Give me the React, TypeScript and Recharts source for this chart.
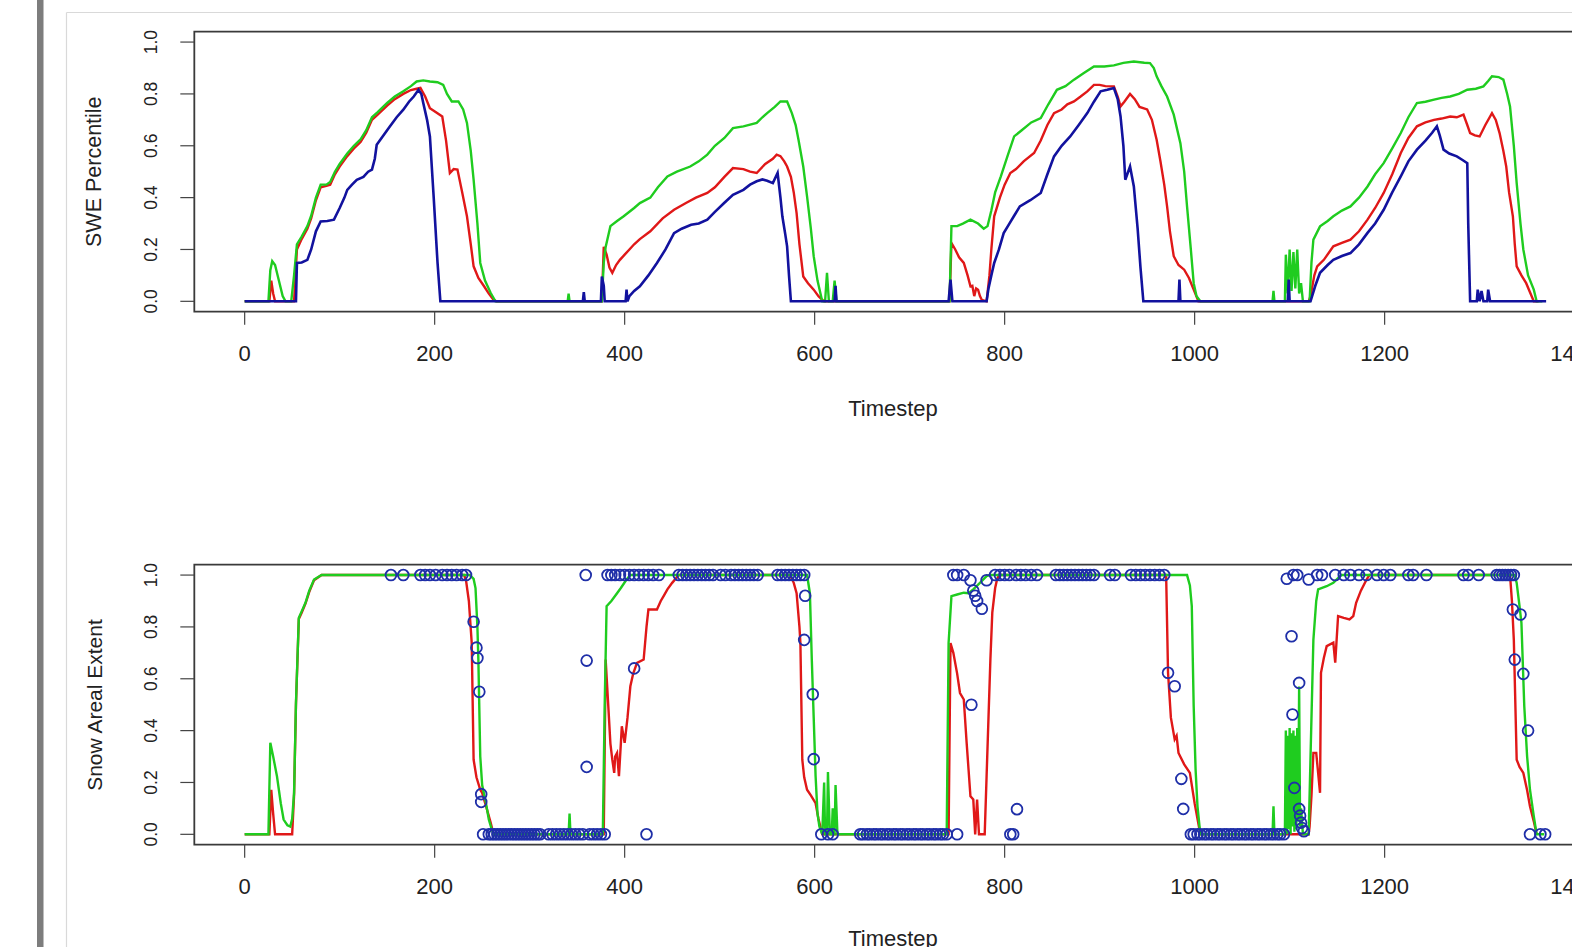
import React from 'react';
import { LineChart, ComposedChart, Line, Scatter, XAxis, YAxis, ReferenceArea } from 'recharts';

// ---------- tick labels ----------
const xTicks = [0, 200, 400, 600, 800, 1000, 1200, 1400];
const yTicks = [0, 0.2, 0.4, 0.6, 0.8, 1.0];
const xTitle = 'Timestep';
const yTitleTop = 'SWE Percentile';
const yTitleBottom = 'Snow Areal Extent';

// ---------- panel 1 : SWE percentile [timestep, value] ----------
const sweGreen: [number, number][] = [
  [0,0],[25,0],[27,0.12],[29,0.155],[32,0.14],[36,0.08],[40,0.02],[43,0],[49,0],[52,0.1],[55,0.22],[60,0.25],[66,0.29],[70,0.33],[75,0.4],[80,0.45],[86,0.45],[90,0.46],[95,0.5],[100,0.53],[108,0.57],[115,0.6],[122,0.625],[128,0.66],[134,0.71],[140,0.73],[150,0.765],[158,0.79],[167,0.81],[175,0.83],[181,0.848],[188,0.852],[195,0.848],[203,0.845],[209,0.835],[213,0.8],[218,0.771],[225,0.771],[230,0.74],[234,0.688],[238,0.58],[241,0.469],[245,0.3],[248,0.148],[253,0.08],[259,0.032],[264,0],
  [340,0],[341,0.03],[342,0],[376,0],[378,0.15],[380,0.21],[385,0.29],[392,0.31],[399,0.328],[410,0.36],[416,0.379],[427,0.4],[435,0.44],[445,0.482],[455,0.5],[469,0.52],[478,0.54],[487,0.566],[495,0.6],[505,0.63],[514,0.668],[525,0.675],[539,0.688],[545,0.71],[550,0.726],[558,0.75],[564,0.771],[571,0.771],[576,0.726],[580,0.68],[583,0.623],[588,0.52],[592,0.405],[596,0.28],[599,0.174],[603,0.08],[606,0.032],[608,0],[611,0],[613,0.11],[615,0],[619,0],[621,0.08],[623,0],
  [742,0],[744,0.29],[750,0.29],[756,0.3],[764,0.315],[772,0.3],[778,0.28],[782,0.29],[786,0.35],[790,0.42],[796,0.482],[803,0.56],[810,0.636],[818,0.66],[828,0.69],[838,0.707],[846,0.76],[855,0.816],[864,0.83],[873,0.855],[883,0.88],[894,0.906],[905,0.906],[915,0.91],[925,0.92],[936,0.925],[947,0.92],[953,0.919],[957,0.9],[960,0.868],[965,0.83],[971,0.79],[978,0.72],[985,0.61],[989,0.5],[992,0.366],[996,0.2],[999,0.07],[1002,0.02],[1006,0],
  [1082,0],[1083,0.04],[1084,0],[1095,0],[1096,0.18],[1098,0.03],[1100,0.2],[1102,0.04],[1104,0.19],[1106,0.05],[1108,0.2],[1110,0.03],[1112,0.07],[1114,0],[1121,0],[1123,0.15],[1125,0.238],[1132,0.289],[1140,0.31],[1146,0.328],[1155,0.35],[1164,0.366],[1173,0.4],[1182,0.443],[1190,0.49],[1199,0.533],[1208,0.59],[1217,0.649],[1225,0.71],[1234,0.765],[1243,0.77],[1252,0.778],[1260,0.785],[1269,0.79],[1278,0.8],[1287,0.816],[1296,0.82],[1304,0.829],[1309,0.85],[1313,0.868],[1320,0.865],[1325,0.855],[1329,0.8],[1332,0.752],[1336,0.6],[1339,0.456],[1343,0.3],[1346,0.2],[1351,0.1],[1357,0.045],[1360,0],[1366,0],
];

const sweRed: [number, number][] = [
  [0,0],[26,0],[28,0.08],[30,0.03],[32,0],[52,0],[55,0.2],[60,0.24],[66,0.28],[70,0.32],[75,0.39],[80,0.44],[86,0.445],[90,0.45],[95,0.49],[100,0.52],[108,0.56],[115,0.59],[122,0.615],[128,0.65],[134,0.7],[140,0.72],[150,0.755],[158,0.78],[167,0.8],[175,0.815],[181,0.82],[185,0.823],[190,0.79],[195,0.745],[201,0.73],[208,0.713],[212,0.62],[216,0.495],[220,0.51],[224,0.508],[229,0.42],[234,0.328],[238,0.22],[241,0.135],[246,0.09],[252,0.058],[257,0.03],[262,0.006],[265,0],
  [376,0],[378,0.21],[381,0.18],[384,0.13],[387,0.11],[391,0.14],[395,0.16],[400,0.18],[405,0.2],[410,0.22],[416,0.24],[427,0.27],[440,0.32],[452,0.353],[465,0.38],[475,0.4],[487,0.418],[495,0.44],[505,0.48],[514,0.514],[525,0.51],[532,0.5],[539,0.495],[548,0.53],[556,0.55],[560,0.566],[564,0.56],[568,0.54],[571,0.52],[575,0.48],[578,0.42],[581,0.34],[584,0.22],[588,0.096],[593,0.07],[599,0.045],[604,0.02],[608,0.006],[610,0],
  [742,0],[744,0.225],[748,0.2],[752,0.17],[757,0.148],[761,0.1],[764,0.058],[766,0.06],[768,0.02],[770,0.05],[772,0.045],[774,0.02],[776,0.005],[781,0],[784,0.1],[786,0.2],[789,0.328],[795,0.4],[800,0.45],[806,0.495],[812,0.51],[820,0.54],[831,0.572],[838,0.62],[845,0.68],[852,0.726],[860,0.74],[866,0.76],[873,0.771],[880,0.79],[887,0.81],[894,0.835],[900,0.835],[906,0.83],[915,0.829],[919,0.79],[922,0.752],[926,0.77],[932,0.8],[937,0.78],[942,0.75],[950,0.74],[955,0.7],[960,0.623],[964,0.54],[968,0.45],[971,0.366],[974,0.27],[978,0.174],[983,0.14],[989,0.122],[994,0.09],[999,0.045],[1004,0],
  [1120,0],[1122,0.02],[1126,0.1],[1129,0.135],[1136,0.16],[1146,0.212],[1155,0.225],[1164,0.238],[1173,0.27],[1182,0.315],[1190,0.36],[1199,0.418],[1208,0.49],[1217,0.572],[1225,0.63],[1234,0.675],[1243,0.69],[1252,0.7],[1260,0.705],[1269,0.713],[1276,0.71],[1283,0.72],[1287,0.68],[1290,0.649],[1295,0.64],[1300,0.636],[1306,0.68],[1313,0.726],[1317,0.7],[1321,0.649],[1325,0.58],[1328,0.52],[1331,0.42],[1335,0.328],[1337,0.22],[1339,0.135],[1344,0.1],[1349,0.07],[1353,0.035],[1357,0],[1362,0],
];

const sweBlue: [number, number][] = [
  [0,0],[54,0],[55,0.148],[60,0.15],[66,0.16],[70,0.2],[75,0.27],[80,0.308],[87,0.31],[94,0.315],[100,0.36],[105,0.4],[108,0.43],[113,0.45],[118,0.469],[125,0.48],[130,0.5],[134,0.508],[137,0.55],[139,0.604],[146,0.64],[153,0.675],[160,0.71],[167,0.739],[173,0.77],[178,0.79],[183,0.816],[186,0.8],[188,0.765],[192,0.7],[195,0.636],[199,0.4],[203,0.15],[206,0],
  [356,0],[357,0.035],[358,0],[375,0],[376,0.096],[378,0.06],[379,0],[401,0],[402,0.045],[403,0],[405,0.02],[410,0.04],[416,0.058],[425,0.1],[434,0.148],[443,0.2],[452,0.263],[460,0.28],[470,0.295],[478,0.3],[487,0.315],[495,0.345],[505,0.38],[514,0.411],[525,0.43],[532,0.45],[539,0.463],[545,0.47],[550,0.465],[556,0.456],[561,0.495],[564,0.4],[566,0.328],[569,0.26],[571,0.212],[573,0.1],[575,0],
  [621,0],[622,0.06],[623,0],[741,0],[743,0.084],[745,0],[781,0],[783,0.05],[786,0.1],[789,0.148],[794,0.2],[799,0.263],[805,0.3],[810,0.33],[816,0.366],[827,0.39],[838,0.418],[845,0.49],[852,0.559],[860,0.6],[869,0.636],[878,0.68],[887,0.726],[894,0.77],[901,0.81],[908,0.816],[915,0.823],[919,0.78],[922,0.713],[925,0.6],[927,0.469],[932,0.52],[936,0.443],[940,0.28],[943,0.13],[946,0],
  [983,0],[984,0.084],[985,0],[1098,0],[1099,0.084],[1100,0],[1122,0],[1127,0.06],[1132,0.11],[1140,0.14],[1146,0.16],[1155,0.175],[1164,0.186],[1173,0.22],[1182,0.264],[1190,0.3],[1199,0.353],[1208,0.42],[1217,0.482],[1225,0.54],[1234,0.585],[1243,0.62],[1250,0.65],[1255,0.675],[1258,0.64],[1262,0.585],[1268,0.57],[1276,0.559],[1282,0.545],[1287,0.533],[1288,0.3],[1290,0],[1297,0],[1298,0.045],[1300,0],[1302,0.04],[1304,0],[1308,0],[1309,0.045],[1311,0],[1370,0],
];

// ---------- panel 2 : snow areal extent [timestep, value] ----------
const saeGreen: [number, number][] = [
  [0,0],[25,0],[27,0.353],[30,0.3],[34,0.224],[38,0.12],[41,0.057],[45,0.035],[48,0.03],[50,0.06],[52,0.16],[54,0.507],[57,0.835],[60,0.86],[64,0.893],[68,0.94],[73,0.983],[81,1],[237,1],[241,0.985],[243,0.95],[245,0.8],[246,0.674],[248,0.3],[250,0.19],[254,0.12],[257,0.057],[260,0.02],[262,0],
  [341,0],[342,0.08],[343,0],[377,0],[379,0.5],[381,0.88],[386,0.9],[392,0.93],[396,0.95],[402,0.983],[406,1],[592,1],[595,0.93],[597,0.674],[599,0.45],[601,0.224],[603,0.08],[605,0.03],[608,0],[610,0.2],[611,0],[613,0],[614,0.24],[616,0],[618,0],[619,0.1],[620,0],[621,0],[622,0.19],[624,0],
  [739,0],[741,0.738],[744,0.919],[750,0.925],[757,0.932],[762,0.93],[767,0.945],[774,0.97],[781,0.996],[784,1],[992,1],[995,0.96],[997,0.88],[999,0.494],[1001,0.25],[1003,0.108],[1006,0],
  [1082,0],[1083,0.108],[1084,0],[1095,0],[1096,0.4],[1097,0],[1098,0.38],[1099,0.02],[1100,0.41],[1101,0],[1102,0.39],[1103,0.03],[1104,0.4],[1105,0.01],[1106,0.38],[1107,0.02],[1108,0.41],[1109,0.05],[1110,0.57],[1111,0.03],[1112,0.1],[1114,0],[1120,0],[1122,0.3],[1125,0.75],[1128,0.9],[1130,0.945],[1139,0.957],[1146,0.97],[1153,0.996],[1155,1],[1337,1],[1339,0.97],[1342,0.88],[1344,0.816],[1347,0.494],[1350,0.3],[1353,0.172],[1357,0.07],[1360,0],[1368,0],
];

const saeRed: [number, number][] = [
  [0,0],[26,0],[28,0.172],[30,0.08],[32,0],[50,0],[52,0.15],[54,0.5],[57,0.83],[60,0.855],[64,0.89],[68,0.935],[73,0.98],[81,1],[231,1],[233,0.98],[236,0.9],[239,0.739],[241,0.288],[244,0.22],[248,0.172],[250,0.16],[254,0.11],[259,0.044],[262,0],
  [378,0],[380,0.674],[383,0.48],[385,0.35],[387,0.288],[389,0.237],[390,0.3],[392,0.314],[394,0.224],[396,0.35],[397,0.417],[400,0.353],[403,0.45],[406,0.571],[409,0.62],[413,0.661],[420,0.674],[423,0.8],[425,0.867],[434,0.867],[438,0.9],[441,0.919],[445,0.945],[450,0.97],[457,1],[574,1],[578,0.97],[581,0.93],[584,0.8],[585,0.738],[587,0.288],[589,0.22],[592,0.172],[596,0.15],[601,0.12],[604,0.06],[608,0],
  [741,0],[743,0.738],[746,0.7],[750,0.62],[753,0.545],[757,0.52],[760,0.353],[762,0.25],[764,0.147],[767,0.134],[769,0],[771,0.134],[773,0],[779,0],[781,0.224],[783,0.45],[785,0.674],[787,0.855],[790,0.95],[792,0.983],[794,1],[970,1],[972,0.623],[975,0.45],[979,0.366],[981,0.38],[983,0.314],[989,0.27],[995,0.237],[1000,0.12],[1006,0],
  [1120,0],[1121,0.03],[1123,0.15],[1125,0.314],[1128,0.314],[1132,0.16],[1133,0.623],[1136,0.68],[1139,0.726],[1146,0.739],[1148,0.662],[1151,0.842],[1157,0.835],[1163,0.829],[1167,0.842],[1170,0.893],[1175,0.94],[1181,0.983],[1184,1],[1332,1],[1334,0.9],[1336,0.75],[1339,0.288],[1342,0.26],[1346,0.237],[1350,0.17],[1353,0.108],[1357,0.05],[1360,0],
];

const saeObs: [number, number][] = [
  [154,1],[167,1],[185,1],[190,1],[195,1],[201,1],[208,1],[213,1],[218,1],[223,1],[229,1],[233,1],
  [241,0.82],[244,0.72],[245,0.68],[247,0.55],[249,0.155],[249,0.125],[251,0],
  [257,0],[260,0],[263,0],[266,0],[269,0],[272,0],[275,0],[278,0],[281,0],[284,0],[287,0],[290,0],[293,0],[296,0],[299,0],[302,0],[305,0],[308,0],[311,0],
  [320,0],[324,0],[328,0],[332,0],[336,0],[340,0],[344,0],[348,0],[352,0],[356,0],[363,0],[367,0],[371,0],[375,0],[379,0],
  [359,1],[360,0.67],[360,0.26],[410,0.64],[423,0],
  [382,1],[386,1],[390,1],[395,1],[400,1],[405,1],[410,1],[415,1],[420,1],[425,1],[430,1],[436,1],
  [457,1],[461,1],[465,1],[469,1],[473,1],[477,1],[481,1],[485,1],[489,1],[493,1],[501,1],[506,1],
  [512,1],[516,1],[520,1],[524,1],[528,1],[532,1],[536,1],[540,1],[561,1],[565,1],[569,1],[573,1],[577,1],[581,1],[585,1],[589,1],
  [590,0.92],[589,0.75],[598,0.54],[599,0.29],[607,0],[614,0],[619,0],
  [648,0],[651,0],[655,0],[658,0],[662,0],[665,0],[669,0],[672,0],[676,0],[679,0],[683,0],[686,0],[690,0],[693,0],[697,0],[700,0],[704,0],[707,0],[711,0],[714,0],[718,0],[721,0],[725,0],[728,0],[732,0],[735,0],[739,0],
  [750,0],[806,0],[809,0],[813,0.097],[765,0.5],
  [746,1],[750,1],[757,1],[764,0.98],[767,0.94],[769,0.92],[771,0.9],[776,0.87],[781,0.98],[790,1],[795,1],[800,1],[805,1],[812,1],[817,1],[822,1],[828,1],[834,1],
  [854,1],[858,1],[862,1],[866,1],[870,1],[874,1],[878,1],[882,1],[886,1],[890,1],[894,1],[911,1],[916,1],
  [933,1],[938,1],[943,1],[948,1],[953,1],[958,1],[963,1],[968,1],
  [972,0.623],[979,0.571],[986,0.214],[988,0.098],
  [996,0],[999,0],[1003,0],[1006,0],[1010,0],[1013,0],[1017,0],[1020,0],[1024,0],[1027,0],[1031,0],[1034,0],[1038,0],[1041,0],[1045,0],[1048,0],[1052,0],[1055,0],[1059,0],[1062,0],[1066,0],[1069,0],[1073,0],[1076,0],[1080,0],[1083,0],[1087,0],[1090,0],[1094,0],
  [1097,0.986],[1104,1],[1108,1],[1120,0.983],[1102,0.764],[1110,0.584],[1103,0.462],[1105,0.179],[1110,0.098],[1111,0.072],[1112,0.045],[1113,0.024],[1115,0.012],
  [1129,1],[1134,1],[1148,1],[1157,1],[1164,1],[1173,1],[1181,1],[1192,1],[1199,1],[1206,1],[1225,1],[1230,1],[1244,1],[1283,1],[1288,1],[1299,1],
  [1318,1],[1321,1],[1324,1],[1327,1],[1330,1],[1333,1],[1336,1],
  [1335,0.867],[1343,0.848],[1337,0.674],[1346,0.619],[1351,0.4],[1353,0],[1364,0],[1369,0],
];

// ---------- layout / style ----------
const X_MIN = -53;
const X_MAX = 1418.5;
const Y_MIN = -0.04;
const Y_MAX = 1.04;
const CHART_W = 1620;
const PLOT_LEFT = 194.3;
const PLOT_W = (X_MAX - X_MIN) * 0.95;
const PLOT_TOP = 31.7;
const PLOT_H = 280;
const XAXIS_H = 100;
const CHART_H = PLOT_TOP + PLOT_H + XAXIS_H;
const FONT = '"Liberation Sans", Arial, Helvetica, sans-serif';
const GREEN = '#1fcc1f';
const RED = '#e01818';
const BLUE = '#12129e';
const RING = '#1f2fa8';
const INK = '#222';

const rows = (a: [number, number][]) => a.map(([t, v]) => ({ t, v }));

const XTick = (props: any) => {
  const { x, y, payload } = props;
  return (
    <text x={x} y={y + 29} textAnchor="middle" dominantBaseline="central" fontSize={22} fill={INK} fontFamily={FONT}>
      {payload.value}
    </text>
  );
};

const YTick = (props: any) => {
  const { x, y, payload } = props;
  const cx = x - 29.3;
  return (
    <text x={cx} y={y} transform={`rotate(-90 ${cx} ${y})`} textAnchor="middle" dominantBaseline="central" fontSize={17.5} fill={INK} fontFamily={FONT}>
      {Number(payload.value).toFixed(1)}
    </text>
  );
};

const Ring = (props: any) => {
  const { cx, cy } = props;
  if (cx == null || cy == null) return null;
  return <circle cx={cx} cy={cy} r={5.4} fill="none" stroke={RING} strokeWidth={1.8} />;
};

const margin = { top: PLOT_TOP, left: 0, right: CHART_W - PLOT_LEFT - PLOT_W, bottom: 0 };

const axes = (
  [
    <XAxis key="x" type="number" dataKey="t" domain={[X_MIN, X_MAX]} allowDataOverflow ticks={xTicks} interval={0}
      tickSize={13} tickMargin={0} axisLine={false} tickLine={{ stroke: '#444', strokeWidth: 1.2 }} tick={<XTick />} height={XAXIS_H} />,
    <YAxis key="y" type="number" dataKey="v" domain={[Y_MIN, Y_MAX]} allowDataOverflow ticks={yTicks} interval={0}
      tickSize={14} tickMargin={0} axisLine={false} tickLine={{ stroke: '#444', strokeWidth: 1.2 }} tick={<YTick />} width={PLOT_LEFT} />,
    <ReferenceArea key="box" x1={X_MIN} x2={X_MAX} y1={Y_MIN} y2={Y_MAX} fill="none" fillOpacity={0} stroke="#3a3a3a" strokeWidth={1.8} ifOverflow="visible" />,
  ]
);

export default function App() {
  return (
    <div style={{ position: 'absolute', left: 0, top: 0, width: 1572, height: 947, overflow: 'hidden', background: '#fff', fontFamily: FONT }}>
      <div style={{ position: 'absolute', left: 0, top: 0 }}>
        <LineChart width={CHART_W} height={CHART_H} margin={margin}>
          {axes}
          <Line data={rows(sweRed)} dataKey="v" type="linear" stroke={RED} strokeWidth={2.4} dot={false} isAnimationActive={false} />
          <Line data={rows(sweGreen)} dataKey="v" type="linear" stroke={GREEN} strokeWidth={2.4} dot={false} isAnimationActive={false} />
          <Line data={rows(sweBlue)} dataKey="v" type="linear" stroke={BLUE} strokeWidth={2.6} dot={false} isAnimationActive={false} />
        </LineChart>
      </div>
      <div style={{ position: 'absolute', left: 0, top: 533.3 }}>
        <ComposedChart width={CHART_W} height={CHART_H} margin={margin}>
          {axes}
          <Line data={rows(saeRed)} dataKey="v" type="linear" stroke={RED} strokeWidth={2.4} dot={false} isAnimationActive={false} />
          <Line data={rows(saeGreen)} dataKey="v" type="linear" stroke={GREEN} strokeWidth={2.4} dot={false} isAnimationActive={false} />
          <Scatter data={rows(saeObs)} dataKey="v" shape={<Ring />} isAnimationActive={false} />
        </ComposedChart>
      </div>
      <svg width={1572} height={947} style={{ position: 'absolute', left: 0, top: 0, pointerEvents: 'none' }}>
        <rect x={37} y={0} width={6.5} height={947} fill="#7d7d7d" />
        <line x1={66.5} y1={12.5} x2={1572} y2={12.5} stroke="#d9d9d9" strokeWidth={1.2} />
        <line x1={66.5} y1={12.5} x2={66.5} y2={947} stroke="#d9d9d9" strokeWidth={1.2} />
        <text x={893} y={408} textAnchor="middle" dominantBaseline="central" fontSize={22} fill={INK} fontFamily={FONT}>{xTitle}</text>
        <text x={893} y={938} textAnchor="middle" dominantBaseline="central" fontSize={22} fill={INK} fontFamily={FONT}>{xTitle}</text>
        <text x={94} y={171.7} transform="rotate(-90 94 171.7)" textAnchor="middle" dominantBaseline="central" fontSize={21.5} fill={INK} fontFamily={FONT}>{yTitleTop}</text>
        <text x={94} y={705} transform="rotate(-90 94 705)" textAnchor="middle" dominantBaseline="central" fontSize={21} fill={INK} fontFamily={FONT}>{yTitleBottom}</text>
      </svg>
    </div>
  );
}
